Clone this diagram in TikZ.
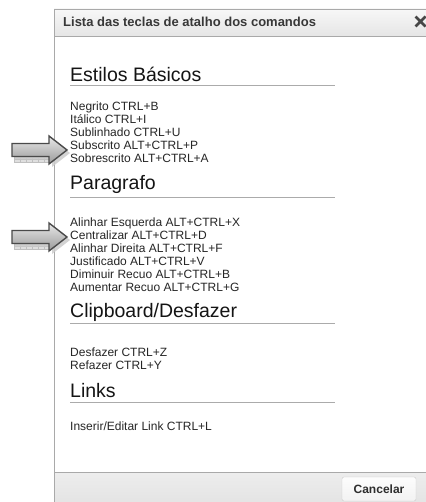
\documentclass[tikz,border=0pt]{standalone}
\usepackage{fontspec}
\setmainfont{Liberation Sans}
\usetikzlibrary{shadows}
\definecolor{frame}{HTML}{A9A9A9}
\definecolor{txt}{HTML}{262626}
\definecolor{rulegray}{HTML}{ABABAB}
\definecolor{arrowedge}{HTML}{4A4A4A}
\begin{document}
\begin{tikzpicture}[x=1pt,y=-1pt,
  item/.style={anchor=base west, inner sep=0pt, font=\fontsize{12}{14}\selectfont, text=txt},
  heading/.style={anchor=base west, inner sep=0pt, font=\fontsize{19.5}{22}\selectfont, text=black!92},
  secrule/.style={draw=rulegray, line width=1.3pt},
  pointer/.style={draw=arrowedge, line width=1.4pt, line join=miter, top color=gray!18, bottom color=gray!80,
     drop shadow={shadow xshift=3pt, shadow yshift=-3pt, fill=gray!40, opacity=0.85}},
  reflect/.style={fill=gray!25, draw=gray!50, line width=0.4pt}
]
\useasboundingbox (0,0) rectangle (425,502);
% dialog body
\fill[white] (54,9) rectangle (440,515);
% title bar
\shade[top color=gray!6, bottom color=gray!20] (54,9) rectangle (440,36);
\draw[frame, line width=0.9pt] (440,9) -- (54,9) -- (54,515);
\draw[frame, line width=0.9pt] (54,36) -- (440,36);
\node[anchor=base west, inner sep=0pt, font=\fontsize{13}{15}\selectfont\bfseries, text=black!78] (title) at (63,27) {Lista das teclas de atalho dos comandos};
\draw[black!72, line width=2.8pt] (415.5,16.5) -- (425.5,26.5) (415.5,26.5) -- (425.5,16.5);
% footer
\shade[top color=gray!14, bottom color=gray!24] (54,472) rectangle (440,515);
\draw[frame, line width=0.9pt] (54,472) -- (440,472);
\draw[frame, line width=0.9pt] (54,472) -- (54,515);
\shade[top color=gray!2, bottom color=gray!10, draw=gray!40, rounded corners=2pt] (342,477) rectangle (416,501);
\node[inner sep=0pt, font=\fontsize{12}{14}\selectfont\bfseries, text=black!82] (cancel) at (379,489) {Cancelar};

% section 1
\node[heading] (h1) at (70,82) {Estilos Básicos};
\draw[secrule] (70,85.5) -- (335,85.5);
\node[item] (i11) at (70,111) {Negrito CTRL+B};
\node[item] (i12) at (70,124) {Itálico CTRL+I};
\node[item] (i13) at (70,137) {Sublinhado CTRL+U};
\node[item] (i14) at (70,150) {Subscrito ALT+CTRL+P};
\node[item] (i15) at (70,163) {Sobrescrito ALT+CTRL+A};
% section 2
\node[heading] (h2) at (70,190) {Paragrafo};
\draw[secrule] (70,197.5) -- (335,197.5);
\node[item] (i21) at (70,226) {Alinhar Esquerda ALT+CTRL+X};
\node[item] (i22) at (70,239) {Centralizar ALT+CTRL+D};
\node[item] (i23) at (70,252) {Alinhar Direita ALT+CTRL+F};
\node[item] (i24) at (70,265) {Justificado ALT+CTRL+V};
\node[item] (i25) at (70,278) {Diminuir Recuo ALT+CTRL+B};
\node[item] (i26) at (70,291) {Aumentar Recuo ALT+CTRL+G};
% section 3
\node[heading] (h3) at (70,317) {Clipboard/Desfazer};
\draw[secrule] (70,323.5) -- (335,323.5);
\node[item] (i31) at (70,356) {Desfazer CTRL+Z};
\node[item] (i32) at (70,369) {Refazer CTRL+Y};
% section 4
\node[heading] (h4) at (70,397) {Links};
\draw[secrule] (70,402.5) -- (335,402.5);
\node[item] (i41) at (70,430) {Inserir/Editar Link CTRL+L};

% pointer arrows
\foreach \cy/\nm in {150/p1, 237/p2}{
  \fill[reflect] (14,\cy+7) rectangle (50,\cy+12);
  \foreach \xx in {20,26,32,38,44}{\draw[gray!50, line width=0.4pt] (\xx,\cy+7) -- (\xx,\cy+12);}
  \draw[gray!50, line width=0.4pt] (14,\cy+9.5) -- (50,\cy+9.5);
  \path[pointer] (12,\cy-6.5) -- (49,\cy-6.5) -- (49,\cy-14) -- (67,\cy) -- (49,\cy+14) -- (49,\cy+6.5) -- (12,\cy+6.5) -- cycle;
  \coordinate (\nm) at (67,\cy);
}
\end{tikzpicture}
\end{document}
